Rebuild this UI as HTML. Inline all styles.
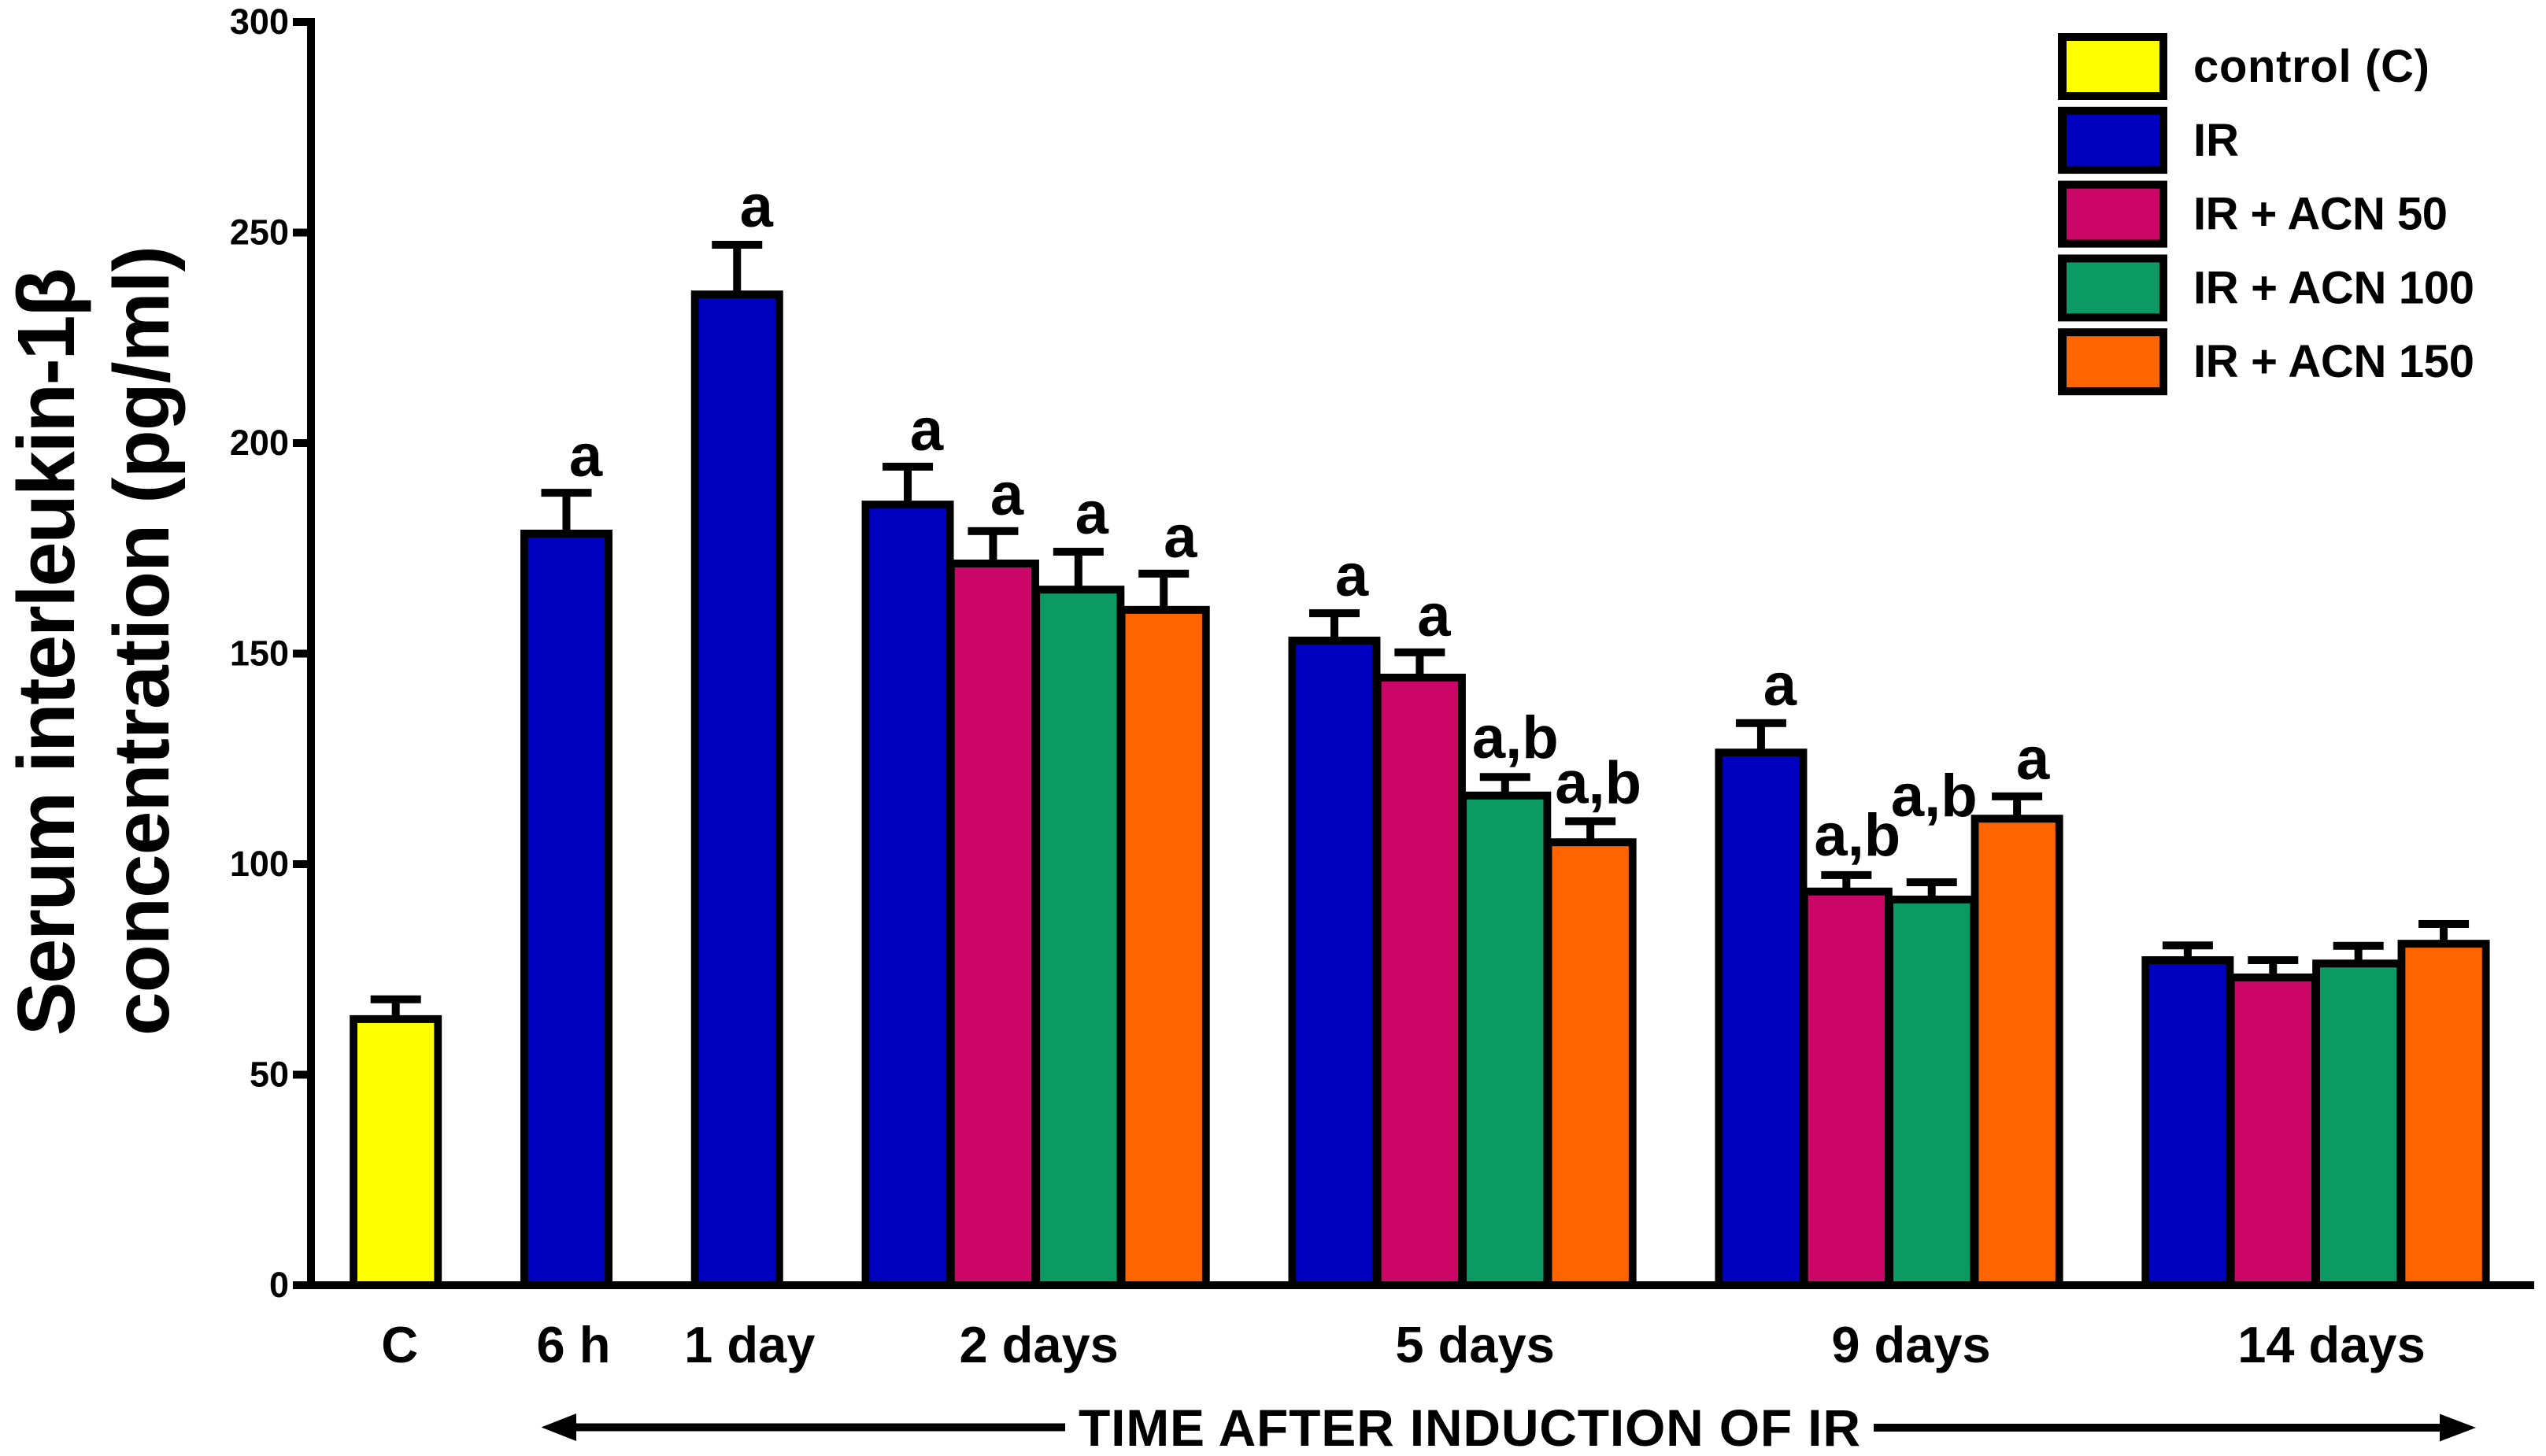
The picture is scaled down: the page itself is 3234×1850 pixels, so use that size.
<!DOCTYPE html>
<html lang="en">
<head>
<meta charset="utf-8">
<title>Serum interleukin-1β concentration over time</title>
<style>
html,body{margin:0;padding:0;background:#fff;}
body{width:3234px;height:1850px;overflow:hidden;}
svg{display:block;}
text{font-family:"Liberation Sans",Arial,"Noto Sans CJK SC",sans-serif;font-weight:bold;fill:#000;}
</style>
</head>
<body>
<svg id="chart" xmlns="http://www.w3.org/2000/svg" width="3234" height="1850" viewBox="0 0 3234 1850">
  <rect x="0" y="0" width="3234" height="1850" fill="#ffffff"></rect>
  <text transform="translate(94 1316) rotate(-90)" font-size="103" textLength="976">Serum interleukin-1β</text>
  <text transform="translate(214 1316) rotate(-90)" font-size="100" textLength="1004">concentration (pg/ml)</text>
  <g id="marks"></g>
  <g id="axes"></g>
  <g id="legend"></g>
  <g>
    <rect x="730" y="1808.5" width="623" height="10" fill="#000"></rect>
    <polygon points="687.5,1813.5 732,1796 732,1831" fill="#000"></polygon>
    <rect x="2380" y="1809" width="721" height="10" fill="#000"></rect>
    <polygon points="3145,1814 3099,1796.5 3099,1831.5" fill="#000"></polygon>
  </g>
  <text x="1370" y="1837" font-size="66" textLength="993">TIME AFTER INDUCTION OF IR</text>
</svg>
<script>
const categories = ['C', '6 h', '1 day', '2 days', '5 days', '9 days', '14 days'];
const seriesNames = ['control (C)', 'IR', 'IR + ACN 50', 'IR + ACN 100', 'IR + ACN 150'];
const control = [63.2, null, null, null, null, null, null];
const ir = [null, 178.5, 235.3, 185.4, 153.1, 126.5, 77.2];
const acn50 = [null, null, null, 171.4, 144.3, 93.5, 73.1];
const acn100 = [null, null, null, 165.2, 116.3, 91.6, 76.4];
const acn150 = [null, null, null, 160.4, 105.2, 110.8, 81.1];
const controlErr = [4.7, null, null, null, null, null, null];
const irErr = [null, 9.7, 11.8, 9.0, 6.5, 7.0, 3.5];
const acn50Err = [null, null, null, 7.7, 6.0, 3.9, 4.1];
const acn100Err = [null, null, null, 9.0, 4.4, 4.1, 4.2];
const acn150Err = [null, null, null, 8.6, 5.0, 5.3, 4.7];
const yTicks = [0, 50, 100, 150, 200, 250, 300];

const NS = 'http://www.w3.org/2000/svg';
const seriesValues = [control, ir, acn50, acn100, acn150];
const seriesErrors = [controlErr, irErr, acn50Err, acn100Err, acn150Err];
const seriesColors = ['#ffff00', '#0000c0', '#cc0666', '#0b9a64', '#ff6400'];
const seriesKeys = ['control', 'ir', 'acn-50', 'acn-100', 'acn-150'];

const SLOT0 = 502.7, SLOT_W = 108.39;
const Y0 = 1633, Y_PER_UNIT = 5.35;
function xScale(slot) { return SLOT0 + slot * SLOT_W; }
function yScale(v) { return Y0 - v * Y_PER_UNIT; }

function shape(tag, attrs, parent) {
  const el = document.createElementNS(NS, tag);
  for (const k in attrs) el.setAttribute(k, attrs[k]);
  parent.appendChild(el);
  return el;
}

const marks = document.getElementById('marks');
const axes = document.getElementById('axes');
const legend = document.getElementById('legend');

/* Bars occupy consecutive slots inside a category; a one-slot gap separates categories. */
const placed = {};
const groupCentre = [];
let slot = 0;
categories.forEach(function (cat, c) {
  const first = slot;
  seriesValues.forEach(function (vals, s) {
    if (vals[c] === null) return;
    placed[c + ':' + s] = slot;
    slot += 1;
  });
  groupCentre[c] = (first + slot - 1) / 2;
  slot += 1;
});

const fills = [];
categories.forEach(function (cat, c) {
  seriesValues.forEach(function (vals, s) {
    if (vals[c] === null) return;
    const cx = xScale(placed[c + ':' + s]);
    const top = yScale(vals[c]);
    const cap = yScale(vals[c] + seriesErrors[s][c]);
    const stem = shape('rect', { x: cx - 5, y: cap, width: 10, height: top - cap, fill: '#000' }, marks);
    
    
    const capBar = shape('rect', { x: cx - 32, y: cap - 5, width: 64, height: 10, fill: '#000' }, marks);
    
    
    const outline = shape('rect', { x: cx - 58.5, y: top - 5, width: 117, height: Y0 - top + 5, fill: '#000' }, marks);
    
    
    fills.push({ cx: cx, top: top, color: seriesColors[s], key: seriesKeys[s], c: c });
  });
});
fills.forEach(function (f) {
  const bar = shape('rect', { x: f.cx - 48.7, y: f.top + 5, width: 97.4, height: Y0 - f.top - 10, fill: f.color }, marks);
  
  
});

/* Significance letters sit a given distance above each error cap. */
function sigLabel(c, s, txt, dx, gap) {
  const cap = yScale(seriesValues[s][c] + seriesErrors[s][c]);
  const t = shape('text', { x: xScale(placed[c + ':' + s]) + dx, y: cap - gap, 'font-size': 76, 'text-anchor': 'middle' }, marks);
  t.textContent = txt;
  
  
}
sigLabel(1, 1, 'a', 24.5, 21);
sigLabel(2, 1, 'a', 24.5, 23);
sigLabel(3, 1, 'a', 24, 21);
sigLabel(3, 2, 'a', 17.6, 21);
sigLabel(3, 3, 'a', 17, 23);
sigLabel(3, 4, 'a', 21, 21);
sigLabel(4, 1, 'a', 22, 22);
sigLabel(4, 2, 'a', 18, 21);
sigLabel(4, 3, 'a,b', 13, 24.5);
sigLabel(4, 4, 'a,b', 10, 23);
sigLabel(5, 1, 'a', 24, 23);
sigLabel(5, 2, 'a,b', 14, 25);
sigLabel(5, 3, 'a,b', 3, 84);
sigLabel(5, 4, 'a', 20, 22);

/* Axes */
const yAxisLine = shape('rect', { x: 390, y: yScale(yTicks[yTicks.length - 1]) - 5, width: 10, height: Y0 - yScale(yTicks[yTicks.length - 1]) + 10, fill: '#000' }, axes);


const xAxisLine = shape('rect', { x: 372, y: Y0 - 5, width: 2847, height: 10, fill: '#000' }, axes);



yTicks.forEach(function (v) {
  const y = yScale(v);
  const tick = shape('rect', { x: 372, y: y - 5, width: 20, height: 10, fill: '#000' }, axes);
  
  
  const label = shape('text', { x: 367, y: y + 15, 'font-size': 45, 'text-anchor': 'end' }, axes);
  label.textContent = String(v);
  
  
});

function categoryLabel(c, dx) {
  const t = shape('text', { x: xScale(groupCentre[c]) + dx, y: 1731, 'font-size': 65, 'text-anchor': 'middle' }, axes);
  t.textContent = categories[c];
  
  
}
categoryLabel(0, 5);
categoryLabel(1, 9);
categoryLabel(2, 16);
categoryLabel(3, 4);
categoryLabel(4, 16);
categoryLabel(5, 28);
categoryLabel(6, 20);

/* Legend */
seriesNames.forEach(function (name, i) {
  const top = 42 + i * 93.8;
  const box = shape('rect', { x: 2614, y: top, width: 139, height: 85, fill: '#000' }, legend);
  
  
  const swatch = shape('rect', { x: 2625, y: top + 10, width: 118, height: 65, fill: seriesColors[i] }, legend);
  
  
  const label = shape('text', { x: 2786, y: top + 62, 'font-size': 58 }, legend);
  label.textContent = name;
  
  
  if (i === 0) label.setAttribute('textLength', 300);
  if (i >= 2) label.setAttribute('textLength', i === 2 ? 323 : 357);
});
</script>
</body>
</html>
